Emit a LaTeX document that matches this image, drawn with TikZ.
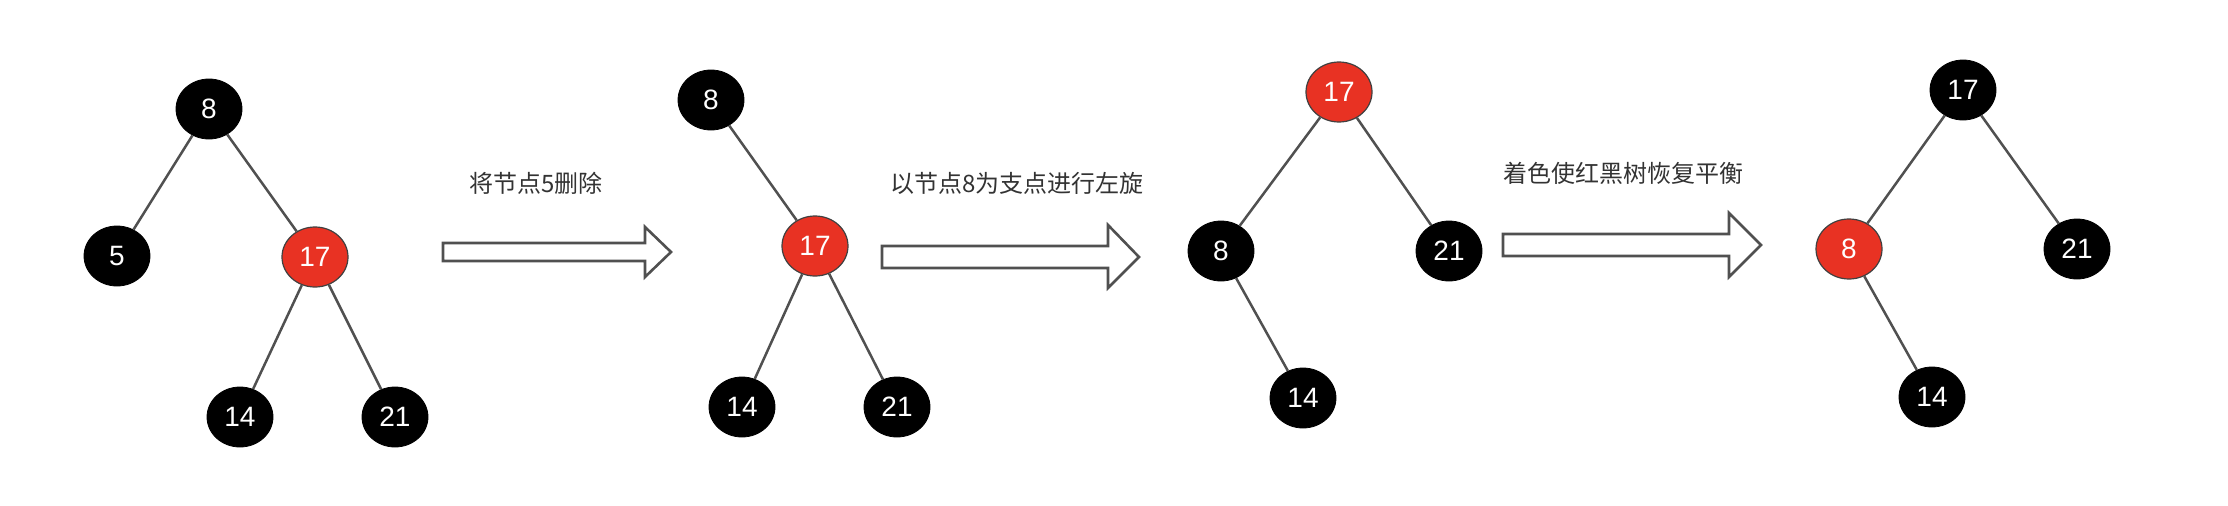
\documentclass[tikz,border=0pt]{standalone}
\usepackage{fontspec}
\setmainfont{Liberation Sans}
\newfontfamily\cjk{Noto Sans CJK SC}
\usetikzlibrary{shapes.geometric}
\definecolor{rbred}{RGB}{232,50,35}
\definecolor{edgegray}{RGB}{80,80,80}
\definecolor{txtgray}{RGB}{51,51,51}
\tikzset{
  rbnode/.style={ellipse, minimum width=66pt, minimum height=60pt, inner sep=0pt,
    text=white, font=\fontsize{28}{28}\selectfont},
  blk/.style={rbnode, fill=black, draw=black, line width=0.8pt},
  rd/.style={rbnode, fill=rbred, draw=black!75, line width=1.2pt},
  edge/.style={draw=edgegray, line width=2.5pt},
  bigarrow/.style={draw=edgegray, fill=white, line width=2.6pt, line join=miter},
  lbl/.style={text=txtgray, font=\cjk\fontsize{24}{24}\selectfont, inner sep=0pt}
}
\begin{document}
\begin{tikzpicture}[x=1pt,y=-1pt]
\useasboundingbox (0,0) rectangle (2228,506);
% tree 1
\node[blk] (a8) at (209,109) {8};
\node[blk] (a5) at (117,256) {5};
\node[rd] (a17) at (315,257) {17};
\node[blk] (a14) at (240,417) {14};
\node[blk] (a21) at (395,417) {21};
\draw[edge] (a8) -- (a5);
\draw[edge] (a8) -- (a17);
\draw[edge] (a17) -- (a14);
\draw[edge] (a17) -- (a21);
% arrow 1
\draw[bigarrow] (443,243) -- (645,243) -- (645,227) -- (671,252) -- (645,277) -- (645,261) -- (443,261) -- cycle;
\node[lbl] (t1) at (536,183) {将节点5删除};
% tree 2
\node[blk] (b8) at (711,100) {8};
\node[rd] (b17) at (815,246) {17};
\node[blk] (b14) at (742,407) {14};
\node[blk] (b21) at (897,407) {21};
\draw[edge] (b8) -- (b17);
\draw[edge] (b17) -- (b14);
\draw[edge] (b17) -- (b21);
% arrow 2
\draw[bigarrow] (882,246) -- (1108,246) -- (1108,225) -- (1139,257) -- (1108,288) -- (1108,268) -- (882,268) -- cycle;
\node[lbl] (t2) at (1017,183) {以节点8为支点进行左旋};
% tree 3
\node[rd] (c17) at (1339,92) {17};
\node[blk] (c8) at (1221,251) {8};
\node[blk] (c21) at (1449,251) {21};
\node[blk] (c14) at (1303,398) {14};
\draw[edge] (c17) -- (c8);
\draw[edge] (c17) -- (c21);
\draw[edge] (c8) -- (c14);
% arrow 3
\draw[bigarrow] (1503,234) -- (1729,234) -- (1729,213) -- (1761,245) -- (1729,277) -- (1729,256) -- (1503,256) -- cycle;
\node[lbl] (t3) at (1623,173) {着色使红黑树恢复平衡};
% tree 4
\node[blk] (d17) at (1963,90) {17};
\node[rd] (d8) at (1849,249) {8};
\node[blk] (d21) at (2077,249) {21};
\node[blk] (d14) at (1932,397) {14};
\draw[edge] (d17) -- (d8);
\draw[edge] (d17) -- (d21);
\draw[edge] (d8) -- (d14);
\end{tikzpicture}
\end{document}
